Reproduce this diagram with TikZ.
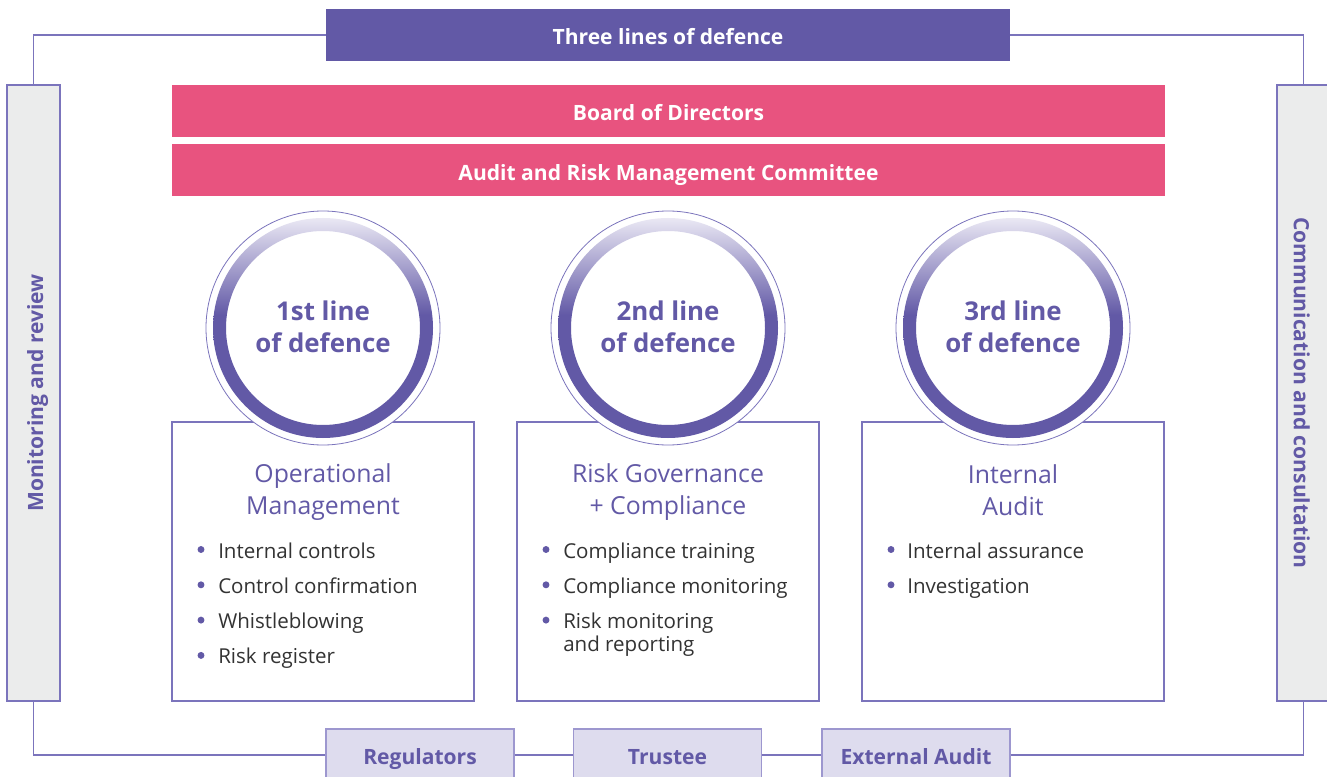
\documentclass[tikz,border=0pt]{standalone}
\usepackage{fontspec}
\setmainfont{Open Sans}
\definecolor{lilac}{HTML}{6259A6}
\definecolor{ringtop}{HTML}{EAE8F4}
\definecolor{rose}{HTML}{E8537F}
\definecolor{rule}{HTML}{7B74BC}
\definecolor{sidegrey}{HTML}{EBECEC}
\definecolor{tagfill}{HTML}{DEDCEE}
\definecolor{tagline}{HTML}{9D97CF}
\definecolor{ink}{HTML}{333333}
% ring fades from pale lavender at the top to solid purple below its middle
% (the path's bounding box spans 25bp..75bp of the shading)
\pgfdeclareverticalshading{ringshade}{100bp}{color(0bp)=(lilac); color(53bp)=(lilac); color(75bp)=(ringtop); color(100bp)=(ringtop)}
\begin{document}
\begin{tikzpicture}[x=0.75pt,y=-0.75pt,
  frame/.style={draw=rule,line width=0.9pt},
  boldlabel/.style={font=\fontsize{15.8}{18}\selectfont\bfseries,text height=14.3pt,text depth=0pt,inner sep=0pt},
  banner/.style={boldlabel,fill=lilac,text=white,minimum width=513pt,minimum height=39pt},
  pinkbar/.style={boldlabel,fill=rose,text=white,minimum width=744.75pt,minimum height=39pt},
  sidebox/.style={boldlabel,fill=sidegrey,draw=rule,line width=0.8pt,text=lilac,
    minimum width=462pt,minimum height=39.75pt},
  tag/.style={boldlabel,fill=tagfill,draw=tagline,line width=0.8pt,text=lilac,
    minimum width=141pt,minimum height=39pt},
  linebox/.style={draw=rule,fill=white,line width=0.8pt,minimum width=226.5pt,minimum height=209.25pt,inner sep=0pt},
  heading/.style={text=lilac,align=center,font=\fontsize{18.6}{24}\selectfont},
  ringtext/.style={text=lilac,align=center,font=\fontsize{19.4}{24}\selectfont\bfseries},
  item/.style={anchor=base west,text=ink,inner sep=0pt,font=\fontsize{15.4}{18}\selectfont},
  dot/.style={fill=lilac,draw=none}
]
\useasboundingbox (0,0) rectangle (1327,777);

% header and side panels
\node[banner] (title) at (668,35) {Three lines of defence};
\node[sidebox,rotate=90] (left) at (33.5,393) {Monitoring and review};
\node[sidebox,rotate=-90] (right) at (1303.5,393) {Communication and consultation};

% external parties along the bottom
\node[tag] (reg) at (420,755) {Regulators};
\node[tag] (trus) at (667.5,755) {Trustee};
\node[tag] (ext) at (916,755) {External Audit};

% surrounding frame
\draw[frame] (title.west) -| (left.east);
\draw[frame] (title.east) -| (right.west);
\draw[frame] (left.west) |- (reg.west);
\draw[frame] (reg.east) -- (trus.west);
\draw[frame] (trus.east) -- (ext.west);
\draw[frame] (ext.east) -| (right.east);

% governing bodies
\node[pinkbar] (board) at (668.5,111) {Board of Directors};
\node[pinkbar] (arm) at (668.5,170.5) {Audit and Risk Management Committee};

% the three lines: a box with a ringed badge on its top edge
\foreach \n/\cx in {one/323,two/668,three/1013}{
  \node[linebox] (box\n) at (\cx,561.5) {};
  \fill[white,draw=rule,line width=0.6pt] (\cx,328) circle[radius=87.75pt];
  \shade[shading=ringshade,even odd rule]
    (\cx,328) circle[radius=82.5pt] (\cx,328) circle[radius=72.75pt];
}
\node[ringtext] (c1) at (323,327) {1st line\\of defence};
\node[ringtext] (c2) at (668,327) {2nd line\\of defence};
\node[ringtext] (c3) at (1013,327) {3rd line\\of defence};

\node[heading] (h1) at (323,492) {Operational\\Management};
\node[heading] (h2) at (668,492) {Risk Governance\\+ Compliance};
\node[heading] (h3) at (1013,490) {Internal\\Audit};

% bullet lists
\foreach \t [count=\i] in {Internal controls,Control confirmation,Whistleblowing,Risk register}{
  \pgfmathsetmacro\yy{549.5+35.3*(\i-1)}
  \fill[dot] (201,\yy) circle[radius=2.6pt];
  \node[item] (a\i) at (218,\yy+8.5) {\t};
}
\foreach \t [count=\i] in {Compliance training,Compliance monitoring,Risk monitoring}{
  \pgfmathsetmacro\yy{549.5+35.3*(\i-1)}
  \fill[dot] (546,\yy) circle[radius=2.6pt];
  \node[item] (b\i) at (563,\yy+8.5) {\t};
}
\node[item] (b4) at (563,651) {and reporting};
\foreach \t [count=\i] in {Internal assurance,Investigation}{
  \pgfmathsetmacro\yy{549.5+35.3*(\i-1)}
  \fill[dot] (891,\yy) circle[radius=2.6pt];
  \node[item] (d\i) at (907,\yy+8.5) {\t};
}
\end{tikzpicture}
\end{document}
